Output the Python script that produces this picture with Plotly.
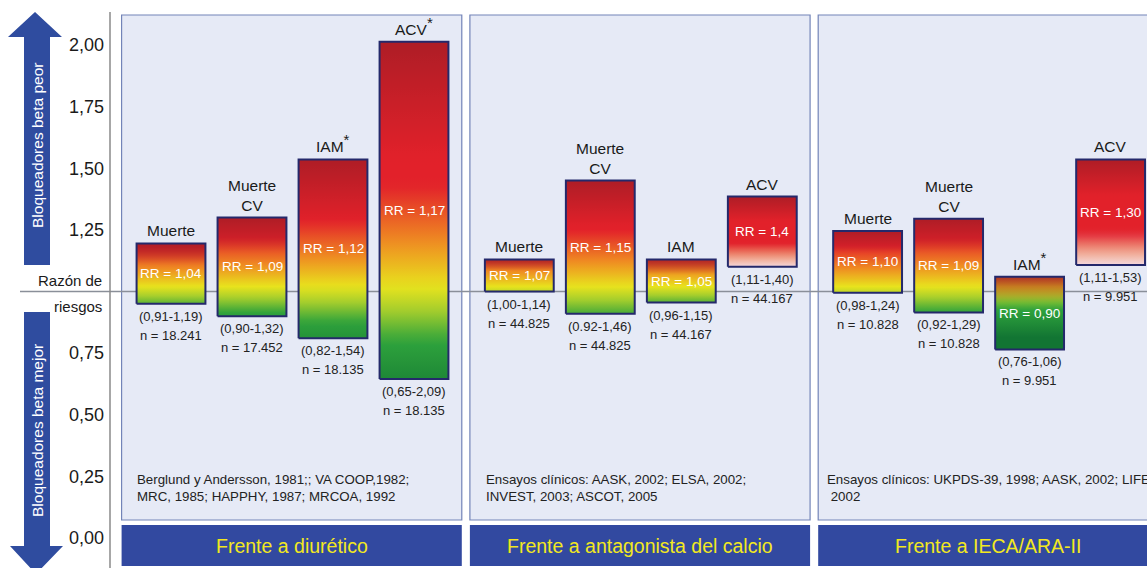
import plotly.graph_objects as go

# ---------------- data ----------------
groups = ["Frente a diurético", "Frente a antagonista del calcio", "Frente a IECA/ARA-II"]
references = [
    "Berglund y Andersson, 1981;; VA COOP,1982;<br>MRC, 1985; HAPPHY, 1987; MRCOA, 1992",
    "Ensayos clínicos: AASK, 2002; ELSA, 2002;<br>INVEST, 2003; ASCOT, 2005",
    "Ensayos clínicos: UKPDS-39, 1998; AASK, 2002; LIFE,<br> 2002",
]
STAR = "<sup><span style='font-size:15px'>*</span></sup>"
outcomes = [
    ["Muerte", "Muerte<br>CV", "IAM" + STAR, "ACV" + STAR],
    ["Muerte", "Muerte<br>CV", "IAM", "ACV"],
    ["Muerte", "Muerte<br>CV", "IAM" + STAR, "ACV"],
]
# drawn bar extents
bar_lo = [[0.95, 0.90, 0.81, 0.645], [1.00, 0.91, 0.955, 1.10], [0.995, 0.915, 0.765, 1.108]]
bar_hi = [[1.195, 1.30, 1.536, 2.013], [1.13, 1.45, 1.13, 1.385], [1.245, 1.295, 1.06, 1.536]]
rr_text = [["1,04", "1,09", "1,12", "1,17"], ["1,07", "1,15", "1,05", "1,4"], ["1,10", "1,09", "0,90", "1,30"]]
ci_text = [
    ["(0,91-1,19)", "(0,90-1,32)", "(0,82-1,54)", "(0,65-2,09)"],
    ["(1,00-1,14)", "(0.92-1,46)", "(0,96-1,15)", "(1,11-1,40)"],
    ["(0,98-1,24)", "(0,92-1,29)", "(0,76-1,06)", "(1,11-1,53)"],
]
n_text = [
    ["18.241", "17.452", "18.135", "18.135"],
    ["44.825", "44.825", "44.167", "44.167"],
    ["10.828", "10.828", "9.951", "9.951"],
]
tick_vals = [0.0, 0.25, 0.50, 0.75, 1.25, 1.50, 1.75, 2.00]
tick_text = ["0,00", "0,25", "0,50", "0,75", "1,25", "1,50", "1,75", "2,00"]

# ---------------- styling ----------------
FONT = "Liberation Sans, Arial, Helvetica, sans-serif"
GROUP_STEP = 4.3
BAR_W = 0.85
PANEL_FILL = "#e6eaf6"
PANEL_LINE = "#7384b8"
BOX_BLUE = "#3249a0"
ARROW_BLUE = "#2f4c9f"
YELLOW_TXT = "#f2e81e"
BAR_EDGE = "#24296b"
REF_LINE = "#8a8f99"


def hex2rgb(h):
    h = h.lstrip("#")
    return tuple(int(h[i:i + 2], 16) for i in (0, 2, 4))


def mix(c1, c2, t):
    a, b = hex2rgb(c1), hex2rgb(c2)
    return tuple(a[i] + (b[i] - a[i]) * t for i in range(3))


def rgb_str(c):
    return "rgb(%d,%d,%d)" % tuple(int(round(v)) for v in c)


def interp(stops, y):
    if y <= stops[0][0]:
        return hex2rgb(stops[0][1])
    for (y0, c0), (y1, c1) in zip(stops[:-1], stops[1:]):
        if y <= y1:
            return mix(c0, c1, (y - y0) / (y1 - y0))
    return hex2rgb(stops[-1][1])


def bar_colorscale(lo, hi):
    h = hi - lo
    d = 0.05 + 0.1 * h
    y0 = 1.02
    stops = [
        (y0 - 2.6 * d, "#127533"),
        (y0 - 1.2 * d, "#2ea23c"),
        (y0 - 0.5 * d, "#a8cf2c"),
        (y0, "#e8e31d"),
        (y0 + d, "#ef8a22"),
        (y0 + 2.2 * d, "#e2212a"),
        (y0 + 10, "#e2212a"),
    ]
    cs = []
    n = 30
    dark = hex2rgb("#a51c25")
    pink = hex2rgb("#f4d6de")
    for k in range(n + 1):
        f = k / n
        y = lo + f * h
        c = interp(stops, y)
        if f > 0.65:
            w = 0.85 * (f - 0.65) / 0.35
            c = tuple(c[i] + (dark[i] - c[i]) * w for i in range(3))
        if lo > 1.05 and f < 0.35:
            w = ((0.35 - f) / 0.35) ** 1.3
            c = tuple(c[i] + (pink[i] - c[i]) * w for i in range(3))
        cs.append([f, rgb_str(c)])
    return cs


fig = go.Figure()

# pixel helpers for decorations (figure is 1147 x 568, plot area x from 110 px)
W, H, ML = 1147, 568, 110
Y_MIN, Y_MAX = -0.1217, 2.1826
X_MIN, X_MAX = (ML - 171) / 81, (W - 171) / 81


def px_x(px):
    return (px - ML) / (W - ML)


def px_y(py):
    return 1 - py / H


def py_data(py):
    return Y_MAX - py * (Y_MAX - Y_MIN) / H


shapes = []
annotations = []
ref_offsets = [0.44, 0.44, 0.52]

for g, gname in enumerate(groups):
    xs = [g * GROUP_STEP + i for i in range(len(outcomes[g]))]
    x_left, x_right = xs[0] - 0.61, xs[-1] + 0.59
    shapes.append(dict(type="rect", xref="x", yref="y", x0=x_left, x1=x_right,
                       y0=py_data(520), y1=py_data(15), fillcolor=PANEL_FILL,
                       line=dict(color=PANEL_LINE, width=1.2), layer="below"))
    shapes.append(dict(type="rect", xref="x", yref="y", x0=x_left, x1=x_right,
                       y0=py_data(566), y1=py_data(525), fillcolor=BOX_BLUE,
                       line=dict(width=0), layer="below"))
    annotations.append(dict(x=(x_left + x_right) / 2, y=py_data(546), xref="x", yref="y",
                            text=gname, showarrow=False, xanchor="center", yanchor="middle",
                            font=dict(family=FONT, size=19.5, color=YELLOW_TXT)))
    annotations.append(dict(x=xs[0] - ref_offsets[g], y=py_data(487.5), xref="x", yref="y",
                            text=references[g], showarrow=False, xanchor="left", align="left",
                            yanchor="middle",
                            font=dict(family=FONT, size=13.3, color="#222222")))
    for i, xc in enumerate(xs):
        lo, hi = bar_lo[g][i], bar_hi[g][i]
        x0, x1 = xc - BAR_W / 2, xc + BAR_W / 2
        fig.add_trace(go.Scatter(
            x=[x0, x1, x1, x0, x0], y=[lo, lo, hi, hi, lo],
            mode="lines", fill="toself",
            line=dict(color=BAR_EDGE, width=2),
            fillgradient=dict(type="vertical", colorscale=bar_colorscale(lo, hi), start=lo, stop=hi),
            hoverinfo="skip", showlegend=False))
        annotations.append(dict(x=xc, y=hi, xref="x", yref="y", text=outcomes[g][i],
                                showarrow=False, xanchor="center", yanchor="bottom", yshift=2,
                                font=dict(family=FONT, size=15.5, color="#1a1a1a")))
        annotations.append(dict(x=xc, y=(lo + hi) / 2, xref="x", yref="y",
                                text="RR = " + rr_text[g][i], showarrow=False,
                                xanchor="center", yanchor="middle",
                                font=dict(family=FONT, size=13.5, color="white")))
        annotations.append(dict(x=xc, y=lo, xref="x", yref="y", text=ci_text[g][i],
                                showarrow=False, xanchor="center", yanchor="top", yshift=-3,
                                font=dict(family=FONT, size=13, color="#222222")))
        annotations.append(dict(x=xc, y=lo, xref="x", yref="y", text="n = " + n_text[g][i],
                                showarrow=False, xanchor="center", yanchor="top", yshift=-22,
                                font=dict(family=FONT, size=13, color="#222222")))

# reference line at RR = 1 (inside plot: above panels; in margin: separate segment)
shapes.append(dict(type="line", xref="x", yref="y", x0=X_MIN, x1=X_MAX, y0=1, y1=1,
                   line=dict(color=REF_LINE, width=1.5), layer="below"))
shapes.append(dict(type="line", xref="paper", yref="y", x0=px_x(20), x1=0, y0=1, y1=1,
                   line=dict(color=REF_LINE, width=1.5)))
# vertical axis line
shapes.append(dict(type="line", xref="paper", yref="y", x0=0, x1=0, y0=Y_MIN, y1=py_data(12),
                   line=dict(color="#8a8a8a", width=1.5)))

# arrows
up = [(24, 265), (24, 37), (8, 37), (35, 12), (62, 37), (50, 37), (50, 265)]
down = [(24, 312), (24, 546), (10, 546), (36, 574), (63, 546), (50, 546), (50, 312)]
for pts in (up, down):
    path = "M " + " L ".join("%.5f,%.5f" % (px_x(a), px_y(b)) for a, b in pts) + " Z"
    shapes.append(dict(type="path", xref="paper", yref="paper", path=path,
                       fillcolor=ARROW_BLUE, line=dict(width=0)))
annotations.append(dict(x=px_x(37), y=px_y(146), xref="paper", yref="paper",
                        text="Bloqueadores beta peor", textangle=-90, showarrow=False,
                        xanchor="center", yanchor="middle",
                        font=dict(family=FONT, size=15.5, color="white")))
annotations.append(dict(x=px_x(37), y=px_y(431), xref="paper", yref="paper",
                        text="Bloqueadores beta mejor", textangle=-90, showarrow=False,
                        xanchor="center", yanchor="middle",
                        font=dict(family=FONT, size=15.5, color="white")))
annotations.append(dict(x=px_x(104), y=py_data(280), xref="paper", yref="y", text="Razón de",
                        showarrow=False, xanchor="right", yanchor="middle",
                        font=dict(family=FONT, size=15, color="#1a1a1a")))
annotations.append(dict(x=px_x(104), y=py_data(306), xref="paper", yref="y", text="riesgos",
                        showarrow=False, xanchor="right", yanchor="middle",
                        font=dict(family=FONT, size=15, color="#1a1a1a")))

fig.update_layout(
    width=W, height=H,
    margin=dict(l=ML, r=0, t=0, b=0, autoexpand=False),
    paper_bgcolor="white", plot_bgcolor="white",
    shapes=shapes, annotations=annotations,
    xaxis=dict(range=[X_MIN, X_MAX], visible=False, fixedrange=True, automargin=False),
    yaxis=dict(range=[Y_MIN, Y_MAX], tickvals=tick_vals, ticktext=tick_text,
               showgrid=False, zeroline=False, showline=False, ticks="",
               ticklabelstandoff=5, automargin=False,
               tickfont=dict(family=FONT, size=18, color="#1a1a1a"), fixedrange=True),
    font=dict(family=FONT),
)

fig.write_html("out.html", config={"displayModeBar": False},
               post_script="document.body.style.margin='0px';document.body.style.overflow='hidden';")
